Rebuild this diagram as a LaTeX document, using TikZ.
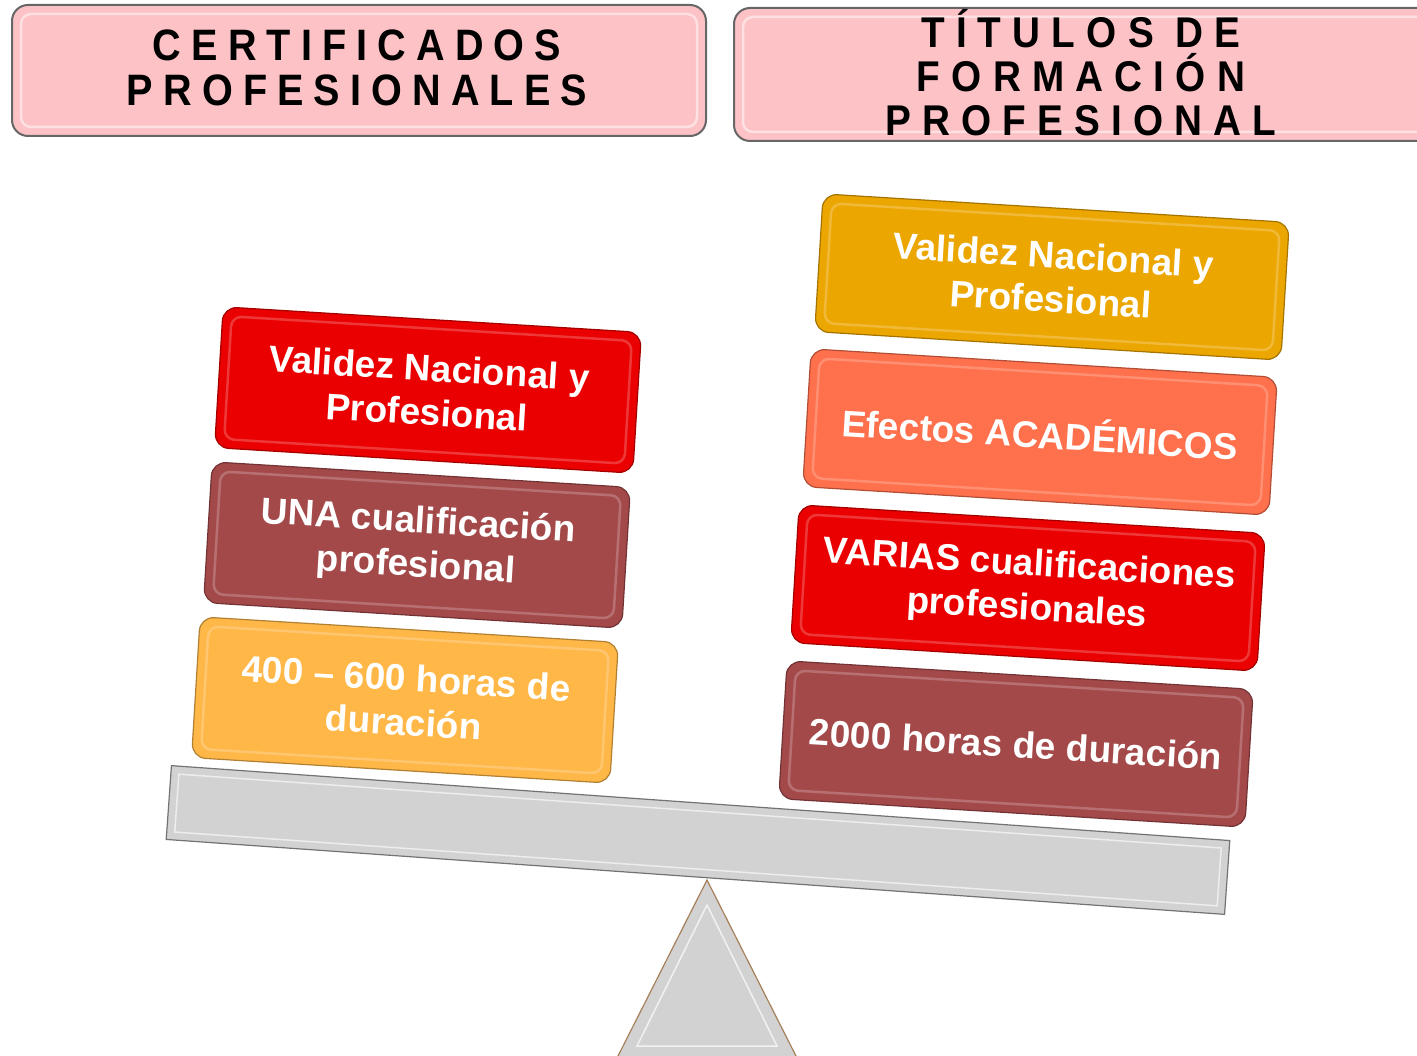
\documentclass[tikz,border=0pt]{standalone}
\usepackage{fontspec}
\setmainfont{Liberation Sans}
\newfontfamily\hdrfont{Liberation Sans}[FakeStretch=0.9,LetterSpace=23]
\newfontfamily\hdrfontb{Liberation Sans}[FakeStretch=0.9,LetterSpace=26]
\definecolor{cred}{RGB}{234,0,0}
\definecolor{cbrown}{RGB}{164,73,74}
\definecolor{corange}{RGB}{255,183,72}
\definecolor{cgold}{RGB}{236,166,0}
\definecolor{csalmon}{RGB}{255,112,76}
\definecolor{cpink}{RGB}{252,194,198}
\definecolor{cgray}{RGB}{210,210,210}
\begin{document}
\begin{tikzpicture}[x=1pt,y=-1pt,
  card/.style={rounded corners=14pt, minimum width=419pt, minimum height=141pt,
    rotate=-3.5, line width=1.2pt, text=white, align=center, inner sep=0pt,
    font=\bfseries\fontsize{37}{44}\selectfont, fill=#1, draw=#1!70!black},
  wcard/.style={card=#1, minimum width=467pt, minimum height=138pt},
  bevel/.style={rounded corners=10pt, rotate=-3.5, line width=2.5pt,
    draw=white, draw opacity=0.22, inner sep=0pt},
  hdr/.style={rounded corners=16pt, fill=cpink, draw=black!60, line width=2pt, inner sep=0pt},
  hdrtext/.style={font=\hdrfont\bfseries\fontsize{44}{45}\selectfont, align=center, inner sep=0pt}
]
\useasboundingbox (0,0) rectangle (1417,1056);

% headers
\node[hdr, minimum width=694pt, minimum height=131pt] (hl) at (359,70.5) {};
\node[rounded corners=10pt, draw=white, draw opacity=0.5, line width=2.5pt,
  minimum width=676pt, minimum height=113pt] (hlb) at (hl) {};
\node[hdrtext] (hlt) at (357,68) {CERTIFICADOS\\PROFESIONALES};

\node[hdr, minimum width=710pt, minimum height=133pt] (hr) at (1089,74.5) {};
\node[rounded corners=10pt, draw=white, draw opacity=0.5, line width=2.5pt,
  minimum width=692pt, minimum height=115pt] (hrb) at (hr) {};
\node[hdrtext, font=\hdrfontb\bfseries\fontsize{43}{44}\selectfont] (hrt) at (1081,73) {TÍTULOS DE\\FORMACIÓN\\PROFESIONAL};

% beam and fulcrum
\node[rotate=-4.05, minimum width=1061pt, minimum height=74pt, fill=cgray,
  draw=black!55, line width=1.2pt, inner sep=0pt] (beam) at (698,840) {};
\node[rotate=-4.05, minimum width=1045pt, minimum height=58pt,
  draw=white, draw opacity=0.6, line width=1.5pt, inner sep=0pt] (beamb) at (beam) {};
\draw[fill=cgray, draw=brown!60!gray, line width=1.2pt] (707,880) -- (617,1058) -- (797,1058) -- cycle;
\draw[draw=white, line width=1.5pt, opacity=0.7] (707,905) -- (637,1046) -- (777,1046) -- cycle;

% left column
\node[card=cred] (l1) at (428,390) {Validez Nacional y\\Profesional};
\node[bevel, minimum width=401pt, minimum height=123pt] at (l1) {};
\node[card=cbrown] (l2) at (417,545) {UNA cualificación\\profesional};
\node[bevel, minimum width=401pt, minimum height=123pt] at (l2) {};
\node[card=corange] (l3) at (405,700) {400 – 600 horas de\\duración};
\node[bevel, minimum width=401pt, minimum height=123pt] at (l3) {};

% right column
\node[wcard=cgold] (r1) at (1052,277) {Validez Nacional y\\Profesional};
\node[bevel, minimum width=449pt, minimum height=120pt] at (r1) {};
\node[wcard=csalmon] (r2) at (1040,432) {Efectos ACADÉMICOS};
\node[bevel, minimum width=449pt, minimum height=120pt] at (r2) {};
\node[wcard=cred] (r3) at (1028,588) {VARIAS cualificaciones\\profesionales};
\node[bevel, minimum width=449pt, minimum height=120pt] at (r3) {};
\node[wcard=cbrown] (r4) at (1016,744) {2000 horas de duración};
\node[bevel, minimum width=449pt, minimum height=120pt] at (r4) {};
\end{tikzpicture}
\end{document}
